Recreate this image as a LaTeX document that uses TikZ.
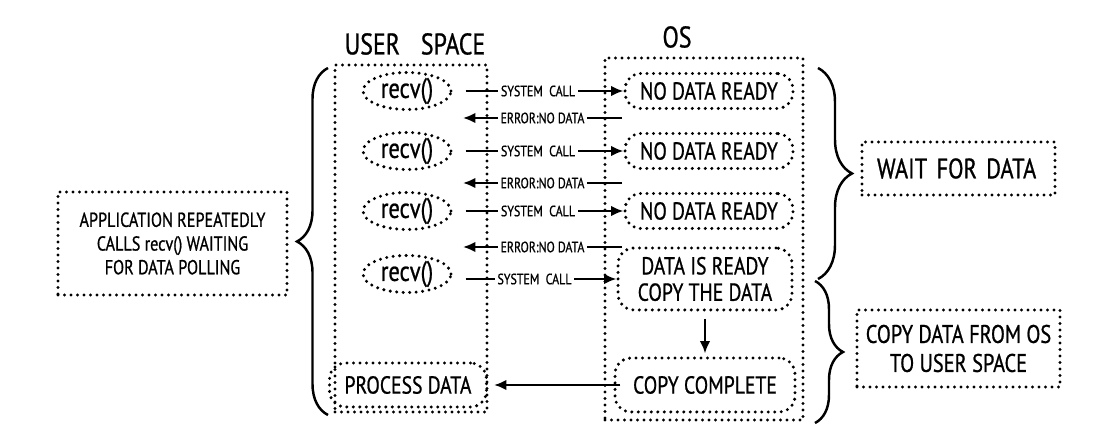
\documentclass[tikz,border=0pt]{standalone}
\usepackage{fontspec}
\setmainfont[FakeStretch=0.8,FakeBold=0.8]{PT Sans}
\usetikzlibrary{arrows.meta,decorations.pathreplacing,shapes.geometric}
\tikzset{
  dots/.style = {line width=1.9pt, line cap=round, dash pattern=on 0pt off 0.13cm},
  lane/.style = {draw, dots, rectangle, inner sep=0pt},
  head/.style = {font=\fontsize{17}{19}\selectfont},
  recv/.style = {draw, dots, ellipse, inner sep=0pt,
    minimum width=1.76cm, minimum height=0.7cm, font=\fontsize{16}{18}\selectfont},
  stepbox/.style = {draw, dots, rounded corners=0.32cm, inner sep=2pt, align=center,
    font=\fontsize{14}{15}\selectfont},
  note/.style = {draw, dots, align=center, inner sep=0pt},
  call/.style = {->, line width=1.2pt},
  tag/.style = {fill=white, inner sep=1.5pt, font=\fontsize{8.5}{9}\selectfont},
  curly/.style = {decorate, line width=1.4pt}
}
\tikzset{>={Latex[length=7pt,width=6pt]}}

\begin{document}
\begin{tikzpicture}[x=0.02cm, y=-0.02cm]
  \useasboundingbox (0,0) rectangle (1113,448);
  % lanes
  \node[lane, minimum width=3.04cm, minimum height=6.94cm] (user) at (411,238.5) {};
  \node[lane, minimum width=3.96cm, minimum height=7.24cm] (os) at (704,239) {};
  \node[head] (userlbl) at (415,44) {USER\hspace{0.7em}SPACE};
  \node[head] (oslbl) at (677,37) {OS};
  % polling rounds
  \foreach \i/\y in {1/91,2/151,3/211}{
    \node[recv] (r\i) at (407,\y) {recv()};
    \node[stepbox, minimum width=3.36cm, minimum height=0.7cm] (n\i) at (709,\y) {NO DATA READY};
    \draw[call, shorten <=0.26cm] (r\i) -- node[tag]{SYSTEM\ \ CALL} (n\i);
  }
  \foreach \i/\y in {1/118,2/183,3/247}{
    \coordinate (e\i) at (622,\y);
    \coordinate (f\i) at (463,\y);
    \draw[call] (e\i) -- node[tag]{ERROR:NO DATA} (f\i);
  }
  \node[recv] (r4) at (407,274) {recv()};
  \node[stepbox, minimum width=3.48cm, minimum height=1.24cm] (ready) at (705,279)
    {DATA IS READY\\COPY THE DATA};
  \draw[call, shorten <=0.26cm] (r4.east |- ready.west) -- node[tag]{SYSTEM\ \ CALL} (ready.west);
  \node[stepbox, minimum width=3.6cm, minimum height=1.08cm] (done) at (705,385) {COPY COMPLETE};
  \node[stepbox, minimum width=3.14cm, minimum height=0.88cm] (proc) at (408,385) {PROCESS DATA};
  \draw[call, shorten <=0.14cm, shorten >=0.06cm] (ready) -- (done);
  \draw[call, shorten <=-0.14cm, shorten >=0.12cm] (done) -- (proc);
  % braces
  \draw[curly, decoration={brace, amplitude=0.62cm}] (328,415) -- (328,68);
  \draw[curly, decoration={brace, amplitude=0.68cm}] (818,68) -- (818,279);
  \draw[curly, decoration={brace, amplitude=0.56cm}] (815,281) -- (815,423);
  % notes
  \node[note, minimum width=4.58cm, minimum height=2.06cm, font=\fontsize{11.5}{13.5}\selectfont]
    (poll) at (172.5,243.5) {APPLICATION REPEATEDLY\\CALLS recv() WAITING\\FOR DATA POLLING};
  \node[note, minimum height=1.06cm, text width=3.26cm, inner xsep=0.3cm, align=left,
    font=\fontsize{16}{18}\selectfont] (wait) at (958.5,168.5) {WAIT FOR DATA};
  \node[note, minimum width=4.06cm, minimum height=1.54cm, font=\fontsize{14.5}{16.5}\selectfont]
    (copy) at (958.5,348.5) {COPY DATA FROM OS\\TO USER SPACE};
\end{tikzpicture}
\end{document}
